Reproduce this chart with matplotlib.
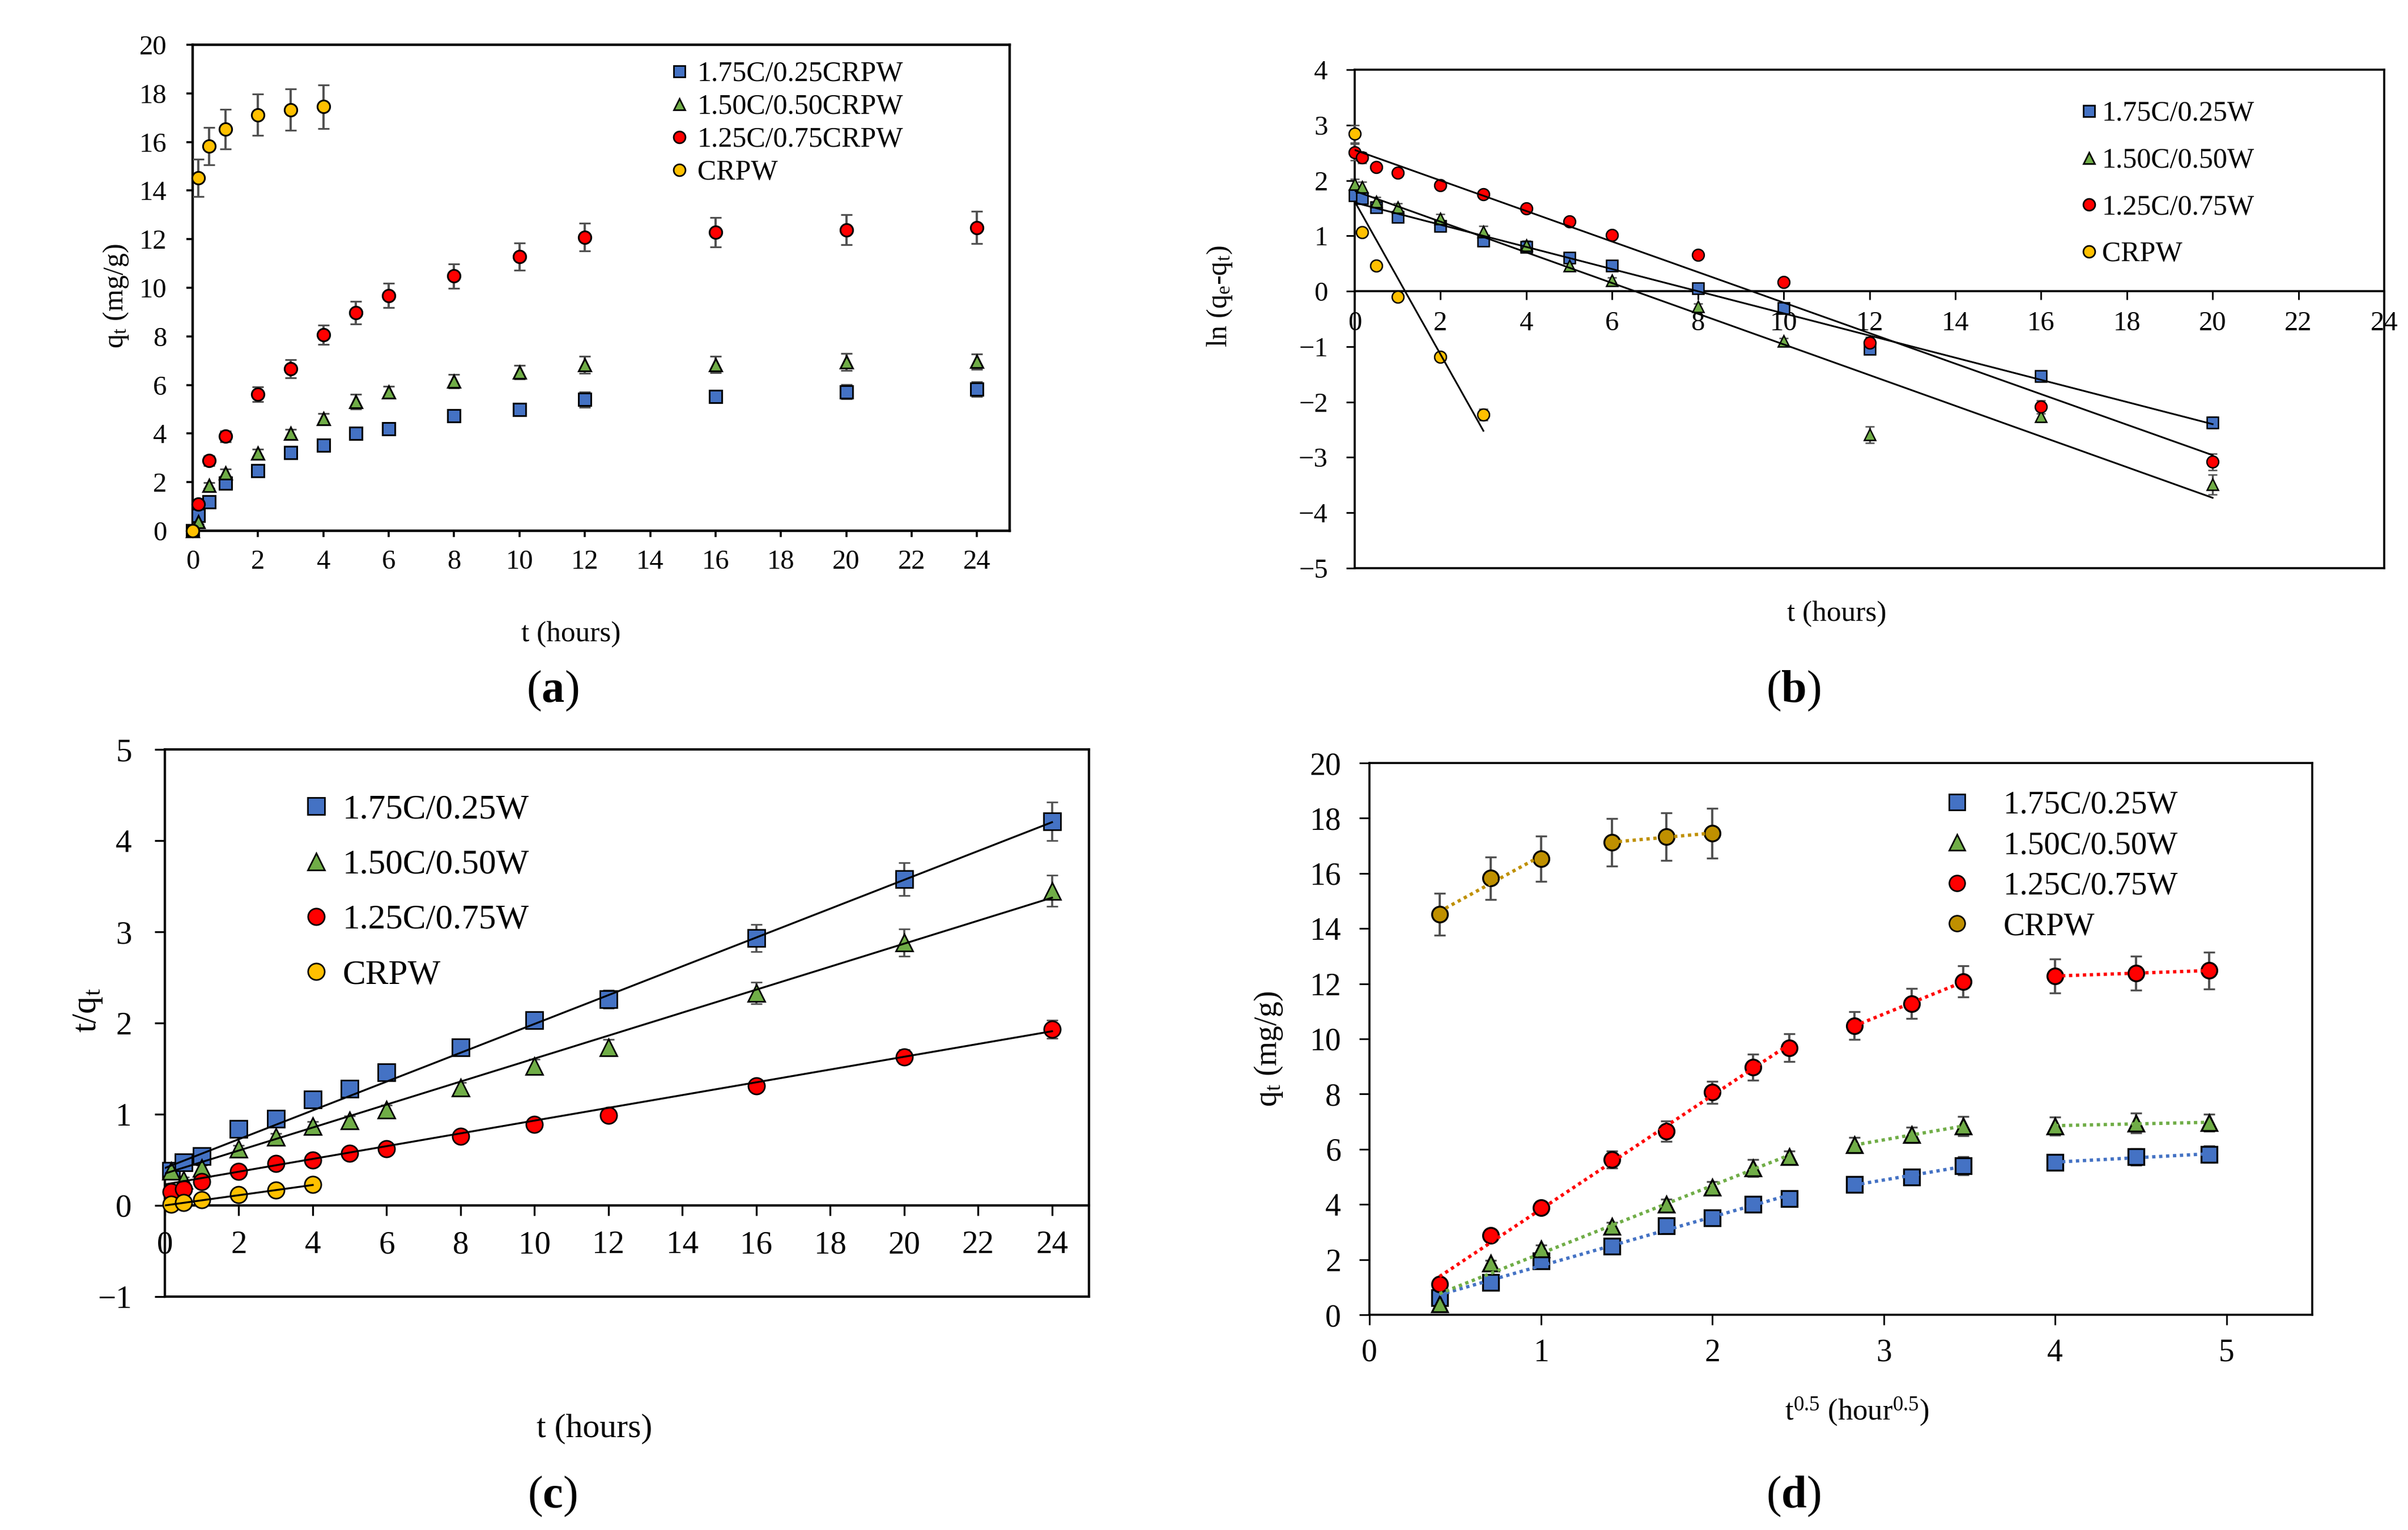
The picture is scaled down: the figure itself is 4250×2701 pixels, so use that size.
import numpy as np
import matplotlib
matplotlib.use('Agg')
import matplotlib.pyplot as plt
from matplotlib.lines import Line2D

plt.rcParams['font.family'] = ['Liberation Serif', 'DejaVu Serif']
plt.rcParams['mathtext.fontset'] = 'custom'
plt.rcParams['mathtext.rm'] = 'Liberation Serif'
plt.rcParams['mathtext.it'] = 'Liberation Serif:italic'
plt.rcParams['mathtext.bf'] = 'Liberation Serif:bold'

# ---------------- data ----------------
labels_crpw = ['1.75C/0.25CRPW', '1.50C/0.50CRPW', '1.25C/0.75CRPW', 'CRPW']
labels_w = ['1.75C/0.25W', '1.50C/0.50W', '1.25C/0.75W', 'CRPW']

# (a) uptake q_t (mg/g) vs t (hours)
t_a = [0, 0.167, 0.5, 1, 2, 3, 4, 5, 6, 8, 10, 12, 16, 20, 24]
t_a_crpw = [0, 0.167, 0.5, 1, 2, 3, 4]
q_175 = [0, 0.62, 1.18, 1.96, 2.48, 3.22, 3.52, 4.0, 4.2, 4.73, 5.0, 5.4, 5.52, 5.72, 5.82]
q_150 = [0, 0.38, 1.86, 2.38, 3.2, 4.0, 4.62, 5.32, 5.72, 6.15, 6.52, 6.84, 6.84, 6.95, 6.96]
q_125 = [0, 1.1, 2.88, 3.89, 5.62, 6.66, 8.06, 8.98, 9.68, 10.48, 11.28, 12.08, 12.28, 12.38, 12.48]
q_crpw = [0, 14.52, 15.83, 16.53, 17.12, 17.33, 17.45]
e_175 = [0, 0.1, 0.1, 0.15, 0.2, 0.15, 0.15, 0.2, 0.2, 0.25, 0.25, 0.32, 0.26, 0.3, 0.3]
e_150 = [0, 0.1, 0.12, 0.15, 0.15, 0.18, 0.2, 0.3, 0.22, 0.28, 0.28, 0.35, 0.33, 0.35, 0.31]
e_125 = [0, 0.1, 0.2, 0.22, 0.31, 0.37, 0.4, 0.47, 0.5, 0.51, 0.55, 0.57, 0.61, 0.62, 0.67]
e_crpw = [0, 0.76, 0.77, 0.82, 0.86, 0.86, 0.9]

# (b) pseudo-first-order ln(qe - qt) vs t
t_b = [0, 0.167, 0.5, 1, 2, 3, 4, 5, 6, 8, 10, 12, 16, 20]
t_b_crpw = [0, 0.167, 0.5, 1, 2, 3]
ln_175 = [1.73, 1.68, 1.51, 1.34, 1.18, 0.91, 0.8, 0.6, 0.46, 0.05, -0.31, -1.04, -1.53, -2.37]
ln_150 = [1.93, 1.88, 1.62, 1.51, 1.31, 1.08, 0.83, 0.46, 0.2, -0.27, -0.9, -2.59, -2.26, -3.49]
ln_125 = [2.51, 2.41, 2.24, 2.14, 1.91, 1.75, 1.49, 1.26, 1.01, 0.66, 0.16, -0.93, -2.09, -3.08]
ln_crpw = [2.84, 1.06, 0.46, -0.1, -1.19, -2.23]
eb_175 = [0.05, 0.05, 0.05, 0.05, 0.05, 0.05, 0.05, 0.05, 0.05, 0.05, 0.05, 0.08, 0.08, 0.1]
eb_150 = [0.1, 0.1, 0.08, 0.08, 0.08, 0.1, 0.08, 0.05, 0.05, 0.05, 0.05, 0.15, 0.1, 0.18]
eb_125 = [0.15, 0.1, 0.05, 0.05, 0.05, 0.05, 0.05, 0.05, 0.05, 0.05, 0.05, 0.1, 0.12, 0.15]
eb_crpw = [0.16, 0.05, 0.05, 0.05, 0.05, 0.1]
# fitted lines: (slope, intercept)
fit_b = [(-0.200, 1.60), (-0.277, 1.81), (-0.2755, 2.55), (-1.38, 1.62)]

# (c) pseudo-second-order t/q_t vs t
t_c = [0.167, 0.5, 1, 2, 3, 4, 5, 6, 8, 10, 12, 16, 20, 24]
t_c_crpw = [0.167, 0.5, 1, 2, 3, 4]
c_175 = [0.38, 0.47, 0.54, 0.84, 0.95, 1.16, 1.28, 1.46, 1.73, 2.03, 2.26, 2.93, 3.58, 4.21]
c_150 = [0.38, 0.28, 0.41, 0.62, 0.75, 0.87, 0.93, 1.05, 1.29, 1.53, 1.73, 2.33, 2.88, 3.45]
c_125 = [0.15, 0.18, 0.26, 0.37, 0.46, 0.5, 0.57, 0.62, 0.76, 0.89, 0.99, 1.31, 1.63, 1.93]
c_crpw = [0.01, 0.03, 0.06, 0.12, 0.17, 0.23]
ec_175 = [0.03, 0.03, 0.03, 0.04, 0.04, 0.05, 0.05, 0.06, 0.07, 0.08, 0.1, 0.15, 0.18, 0.21]
ec_150 = [0.03, 0.03, 0.03, 0.04, 0.04, 0.05, 0.05, 0.05, 0.06, 0.07, 0.09, 0.12, 0.15, 0.17]
ec_125 = [0.02, 0.02, 0.02, 0.02, 0.03, 0.03, 0.03, 0.03, 0.04, 0.04, 0.05, 0.06, 0.08, 0.1]
ec_crpw = [0.01, 0.01, 0.01, 0.01, 0.01, 0.01]
fit_c = [(0.158, 0.41), (0.126, 0.35), (0.070, 0.23), (0.056, 0.0)]

# (d) intraparticle diffusion: segments of point indices per series
seg_w = [(0, 8), (8, 11), (11, 14)]
seg_crpw = [(0, 3), (3, 6)]

# ---------------- style ----------------
markers = ['s', '^', 'o', 'o']
colors = ['#4472C4', '#70AD47', '#FF0000', '#FFC000']
colors_d = ['#4472C4', '#70AD47', '#FF0000', '#BF9000']
ecol = '#505050'

W, H = 4250, 2701
fig = plt.figure(figsize=(W / 100, H / 100), dpi=100)


def rect(l, t, r, b):
    return [l / W, 1 - b / H, (r - l) / W, (b - t) / H]


def style(ax, lw, fs, tl, padx, pady):
    for s in ax.spines.values():
        s.set_linewidth(lw)
    ax.tick_params(direction='out', length=tl, width=lw * 0.8, labelsize=fs)
    ax.tick_params(axis='x', pad=padx)
    ax.tick_params(axis='y', pad=pady)


def legend(ax, labels, cols, ms, fs, left, top, hl, htp, lsp):
    handles = [Line2D([], [], ls='none', marker=m, ms=ms, mfc=c, mec='k', mew=2)
               for m, c in zip(markers, cols)]
    ax.legend(handles, labels, loc='upper left',
              bbox_to_anchor=(left / W, 1 - top / H), bbox_transform=fig.transFigure,
              frameon=False, fontsize=fs, borderpad=0, borderaxespad=0,
              handlelength=hl, handletextpad=htp, labelspacing=lsp)


def label(text, x, y, fs, rot=0):
    fig.text(x / W, 1 - y / H, text, fontsize=fs, rotation=rot,
             ha='center', va='center')


# ---------------- panel (a) ----------------
ax = fig.add_axes(rect(340, 79, 1782, 937))
series = [(t_a, q_175, e_175), (t_a, q_150, e_150), (t_a, q_125, e_125),
          (t_a_crpw, q_crpw, e_crpw)]
for (x, y, e), m, c in zip(series, markers, colors):
    ax.errorbar(x, y, yerr=e, fmt=m, ms=16, mfc=c, mec='k', mew=2.2,
                ecolor=ecol, elinewidth=2.8, capsize=7, capthick=2.8,
                clip_on=False, zorder=3)
ax.set_xlim(0, 25)
ax.set_ylim(0, 20)
ax.set_xticks(np.arange(0, 25, 2))
ax.set_yticks(np.arange(0, 21, 2))
style(ax, 3.2, 35, 8, 16, 25)
legend(ax, labels_crpw, colors, 15, 36, 1184, 108, 0.6, 0.34, 0.23)
label(r'q$_\mathrm{t}$ (mg/g)', 204, 523, 36, 90)
label('t (hours)', 1008, 1120, 37)
label(r'($\mathbf{a}$)', 975, 1220, 58)

# ---------------- panel (b) ----------------
ax = fig.add_axes(rect(2391, 123, 4208, 1003))
series = [(t_b, ln_175, eb_175), (t_b, ln_150, eb_150), (t_b, ln_125, eb_125),
          (t_b_crpw, ln_crpw, eb_crpw)]
for (x, y, e), m, c, (k, b0) in zip(series, markers, colors, fit_b):
    ax.errorbar(x, y, yerr=e, fmt=m, ms=15, mfc=c, mec='k', mew=1.8,
                ecolor=ecol, elinewidth=2.4, capsize=6, capthick=2.4,
                clip_on=False, zorder=3)
    xl = np.array([x[0], x[-1]])
    ax.plot(xl, k * xl + b0, color='k', lw=2.2, zorder=4)
ax.set_xlim(0, 24)
ax.set_ylim(-5, 4)
ax.set_xticks(np.arange(0, 25, 2))
ax.set_yticks(np.arange(-5, 5, 1))
ax.spines['bottom'].set_position(('data', 0))
ax.axhline(-5, color='k', lw=2.6, clip_on=False)
style(ax, 2.6, 35, 11, 14, 23)
legend(ax, labels_w, colors, 15, 36, 3674, 178, 0.5, 0.22, 0.72)
label(r'ln (q$_\mathrm{e}$-q$_\mathrm{t}$)', 2152, 523, 36, 90)
label('t (hours)', 3242, 1084, 37)
label(r'($\mathbf{b}$)', 3165, 1220, 58)

# ---------------- panel (c) ----------------
ax = fig.add_axes(rect(291, 1323, 1922, 2289))
series = [(t_c, c_175, ec_175), (t_c, c_150, ec_150), (t_c, c_125, ec_125),
          (t_c_crpw, c_crpw, ec_crpw)]
for (x, y, e), m, c, (k, b0) in zip(series, markers, colors, fit_c):
    ax.errorbar(x, y, yerr=e, fmt=m, ms=21, mfc=c, mec='k', mew=2,
                ecolor=ecol, elinewidth=2.6, capsize=7, capthick=2.6,
                clip_on=False, zorder=3)
    xl = np.array([0, x[-1]])
    ax.plot(xl, k * xl + b0, color='k', lw=2.4, zorder=4)
ax.set_xlim(0, 25)
ax.set_ylim(-1, 5)
ax.set_xticks(np.arange(0, 25, 2))
ax.set_yticks(np.arange(-1, 6, 1))
ax.spines['bottom'].set_position(('data', 0))
ax.axhline(-1, color='k', lw=3, clip_on=False)
style(ax, 3, 41, 13, 19, 29)
legend(ax, labels_w, colors, 21, 44, 540, 1402, 0.6, 0.46, 0.68)
label(r't/q$_\mathrm{t}$', 155, 1784, 44, 90)
label('t (hours)', 1049, 2522, 43)
label(r'($\mathbf{c}$)', 975, 2642, 58)

# ---------------- panel (d) ----------------
ax = fig.add_axes(rect(2417, 1347, 4081, 2321))
sq_t = np.sqrt(t_c)
sq_t_crpw = np.sqrt(t_c_crpw)
series = [(sq_t, q_175[1:], e_175[1:], seg_w), (sq_t, q_150[1:], e_150[1:], seg_w),
          (sq_t, q_125[1:], e_125[1:], seg_w),
          (sq_t_crpw, q_crpw[1:], e_crpw[1:], seg_crpw)]
for (x, y, e, segs), m, c in zip(series, markers, colors_d):
    ax.errorbar(x, y, yerr=e, fmt=m, ms=20, mfc=c, mec='k', mew=2.4,
                ecolor=ecol, elinewidth=2.8, capsize=7, capthick=2.8,
                clip_on=False, zorder=3)
    x = np.asarray(x)
    y = np.asarray(y)
    for i0, i1 in segs:
        k, b0 = np.polyfit(x[i0:i1], y[i0:i1], 1)
        xl = np.array([x[i0], x[i1 - 1]])
        ax.plot(xl, k * xl + b0, color=c, lw=4.2, ls=(0, (1, 1.1)), zorder=4)
ax.set_xlim(0, 5.5)
ax.set_ylim(0, 20)
ax.set_xticks(np.arange(0, 6, 1))
ax.set_yticks(np.arange(0, 21, 2))
style(ax, 2.6, 40, 13, 17, 23)
legend(ax, labels_w, colors_d, 20, 41, 3437, 1396, 0.6, 1.14, 0.34)
label(r'q$_\mathrm{t}$ (mg/g)', 2239, 1852, 40, 90)
label(r't$^{0.5}$ (hour$^{0.5}$)', 3277, 2492, 38)
label(r'($\mathbf{d}$)', 3165, 2642, 58)

fig.savefig('out.png', dpi=100)
